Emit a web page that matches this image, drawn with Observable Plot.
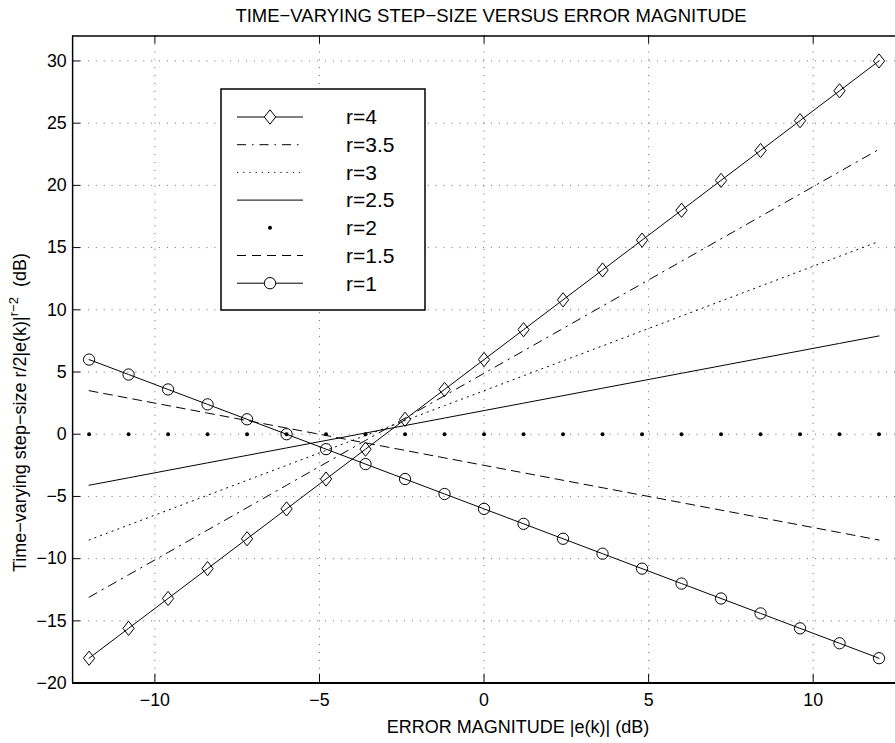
<!DOCTYPE html>
<html><head><meta charset="utf-8">
<script src="https://cdn.jsdelivr.net/npm/d3@7"></script>
<script src="https://cdn.jsdelivr.net/npm/@observablehq/plot@0.6"></script>
<style>
body{margin:0;background:#fff;}
#wrap{position:relative;width:895px;height:743px;overflow:hidden;background:#fff;font-family:"Liberation Sans",Arial,Helvetica,sans-serif;}
#wrap svg{position:absolute;left:0;top:0;}
</style></head><body><div id="wrap"></div>
<script>
// x positions of the plotted samples (dB)
const xValues = [-12,-10.8,-9.6,-8.4,-7.2,-6,-4.8,-3.6,-2.4,-1.2,0,1.2,2.4,3.6,4.8,6,7.2,8.4,9.6,10.8,12];
// series values (dB)
const r4   = [-18,-15.6,-13.2,-10.8,-8.4,-6,-3.6,-1.2,1.2,3.6,6,8.4,10.8,13.2,15.6,18,20.4,22.8,25.2,27.6,30];
const r3_5 = [-13.1,-11.3,-9.5,-7.7,-5.9,-4.1,-2.3,-0.5,1.3,3.1,4.9,6.7,8.5,10.3,12.1,13.9,15.7,17.5,19.3,21.1,22.9];
const r3   = [-8.5,-7.3,-6.1,-4.9,-3.7,-2.5,-1.3,-0.1,1.1,2.3,3.5,4.7,5.9,7.1,8.3,9.5,10.7,11.9,13.1,14.3,15.5];
const r2_5 = [-4.1,-3.5,-2.9,-2.3,-1.7,-1.1,-0.5,0.1,0.7,1.3,1.9,2.5,3.1,3.7,4.3,4.9,5.5,6.1,6.7,7.3,7.9];
const r2   = [0,0,0,0,0,0,0,0,0,0,0,0,0,0,0,0,0,0,0,0,0];
const r1_5 = [3.5,2.9,2.3,1.7,1.1,0.5,-0.1,-0.7,-1.3,-1.9,-2.5,-3.1,-3.7,-4.3,-4.9,-5.5,-6.1,-6.7,-7.3,-7.9,-8.5];
const r1   = [6,4.8,3.6,2.4,1.2,0,-1.2,-2.4,-3.6,-4.8,-6,-7.2,-8.4,-9.6,-10.8,-12,-13.2,-14.4,-15.6,-16.8,-18];
const seriesNames = ["r=4","r=3.5","r=3","r=2.5","r=2","r=1.5","r=1"];
const seriesValues = [r4, r3_5, r3, r2_5, r2, r1_5, r1];
const xTicks = [-10,-5,0,5,10];
const yTicks = [-20,-15,-10,-5,0,5,10,15,20,25,30];
const xDomain = [-12.5, 12.5];
const yDomain = [-20, 32];

const titleText = "TIME\u2212VARYING STEP\u2212SIZE VERSUS ERROR MAGNITUDE";
const xLabelText = "ERROR MAGNITUDE |e(k)| (dB)";

// styles (not data)
const diamondSym = {draw(ctx, size){const r=Math.sqrt(size/Math.PI);const w=r*0.95,h=r*1.2;ctx.moveTo(0,-h);ctx.lineTo(w,0);ctx.lineTo(0,h);ctx.lineTo(-w,0);ctx.closePath();}};
const styles = {
  "r=4":   {line:true, dash:null, marker:"diamond"},
  "r=3.5": {line:true, dash:"9,6,1.5,6", marker:null},
  "r=3":   {line:true, dash:"1.2,5", marker:null},
  "r=2.5": {line:true, dash:null, marker:null},
  "r=2":   {line:false, dash:null, marker:"point"},
  "r=1.5": {line:true, dash:"9,6", marker:null},
  "r=1":   {line:true, dash:null, marker:"circle"}
};

const rows = [];
seriesNames.forEach((name, i) => seriesValues[i].forEach((v, j) => rows.push({name, x: xValues[j], y: v})));

const W = 906, H = 743, mL = 73, mR = 0, mT = 36, mB = 52;
const frameW = W - mL - mR, frameH = H - mT - mB;
const fmt = d3.format("d");

const marks = [
  Plot.ruleY(yTicks, {y: d => d, stroke: "#666", strokeWidth: 1, strokeDasharray: "1,7"}),
  Plot.ruleX(xTicks, {x: d => d, stroke: "#666", strokeWidth: 1, strokeDasharray: "1,7"})
];
seriesNames.forEach(name => {
  const s = styles[name];
  const data = rows.filter(d => d.name === name);
  if (s.line) marks.push(Plot.line(data, {x: "x", y: "y", stroke: "#000", strokeWidth: 1, strokeDasharray: s.dash || undefined}));
  if (s.marker === "diamond") marks.push(Plot.dot(data, {x: "x", y: "y", symbol: diamondSym, r: 6, stroke: "#000", strokeWidth: 1, fill: "none"}));
  if (s.marker === "circle") marks.push(Plot.dot(data, {x: "x", y: "y", symbol: "circle", r: 5.7, stroke: "#000", strokeWidth: 1, fill: "none"}));
  if (s.marker === "point") marks.push(Plot.dot(data, {x: "x", y: "y", r: 2, fill: "#000", stroke: "none"}));
});
marks.push(
  Plot.tickY(yTicks, {y: d => d, stroke: "#000", strokeWidth: 1, insetRight: frameW - 8}),
  Plot.tickX(xTicks, {x: d => d, stroke: "#000", strokeWidth: 1, insetTop: frameH - 9}),
  Plot.tickX(xTicks, {x: d => d, stroke: "#000", strokeWidth: 1, insetBottom: frameH - 8}),
  Plot.ruleX([xDomain[0]], {x: d => d, stroke: "#000", strokeWidth: 1.5}),
  Plot.ruleY([yDomain[0]], {y: d => d, stroke: "#000", strokeWidth: 2}),
  Plot.ruleY([yDomain[1]], {y: d => d, stroke: "#000", strokeWidth: 1.5}),
  Plot.axisY(yTicks, {tickSize: 0, tickPadding: 6, fontSize: 18, tickFormat: fmt, label: null}),
  Plot.axisX(xTicks, {tickSize: 0, tickPadding: 10, fontSize: 18, tickFormat: fmt, label: null})
);

const chart = Plot.plot({
  width: W, height: H,
  marginLeft: mL, marginRight: mR, marginTop: mT, marginBottom: mB,
  x: {domain: xDomain},
  y: {domain: yDomain},
  style: {fontFamily: '"Liberation Sans", Arial, Helvetica, sans-serif', fontSize: "18px", background: "transparent", color: "#000"},
  marks
});
const wrap = document.getElementById("wrap");
wrap.appendChild(chart);

// overlay: title, axis labels, legend
const ov = d3.select(wrap).append("svg").attr("width", 895).attr("height", 743)
  .style("font-family", '"Liberation Sans", Arial, Helvetica, sans-serif');
ov.append("text").attr("x", 491).attr("y", 22).attr("text-anchor", "middle").attr("font-size", 18.5).text(titleText);
ov.append("text").attr("x", 518).attr("y", 733).attr("text-anchor", "middle").attr("font-size", 18).text(xLabelText);
const yl = ov.append("text").attr("transform", "translate(26,572) rotate(-90)").attr("text-anchor", "start")
  .attr("font-size", 18).style("white-space", "pre");
yl.append("tspan").text("Time\u2212varying step\u2212size r/2|e(k)|");
yl.append("tspan").attr("font-size", 13).attr("dy", -8).text("r\u22122");
yl.append("tspan").attr("dy", 8).text("  (dB)");

const lg = ov.append("g");
lg.append("rect").attr("x", 221).attr("y", 89).attr("width", 204).attr("height", 221)
  .attr("fill", "#fff").attr("stroke", "#000").attr("stroke-width", 1.5);
seriesNames.forEach((name, i) => {
  const s = styles[name];
  const cy = 117 + i * 27.7;
  if (s.line) lg.append("line").attr("x1", 237).attr("x2", 303).attr("y1", cy).attr("y2", cy)
    .attr("stroke", "#000").attr("stroke-width", 1).attr("stroke-dasharray", s.dash);
  if (s.marker === "diamond") lg.append("path").attr("d", d3.symbol().type(diamondSym).size(Math.PI * 36)())
    .attr("transform", `translate(270,${cy})`).attr("fill", "#fff").attr("stroke", "#000");
  if (s.marker === "circle") lg.append("circle").attr("cx", 270).attr("cy", cy).attr("r", 5.7).attr("fill", "#fff").attr("stroke", "#000");
  if (s.marker === "point") lg.append("circle").attr("cx", 270).attr("cy", cy).attr("r", 2).attr("fill", "#000");
  lg.append("text").attr("x", 346).attr("y", cy).attr("dy", "0.35em").attr("font-size", 21).text(name);
});
</script></body></html>
